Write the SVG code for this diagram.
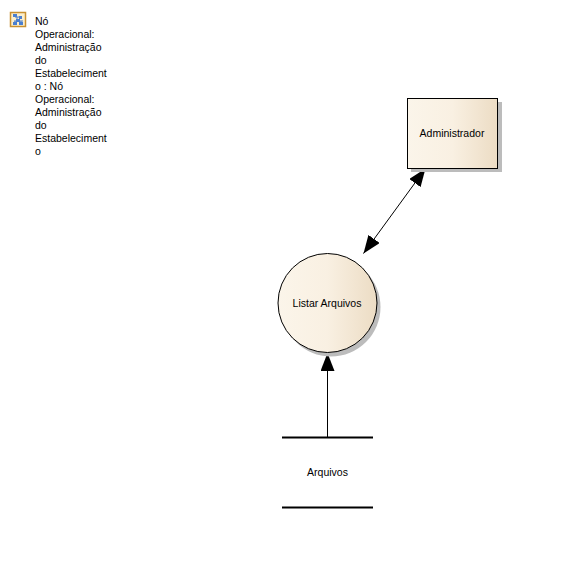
<svg xmlns="http://www.w3.org/2000/svg" width="585" height="572" viewBox="0 0 585 572">
<style>
text{font-family:"Liberation Sans",Arial,sans-serif;font-size:10.500px;fill:#000}
.c{text-anchor:middle}
.conn{stroke:#000;stroke-width:1;fill:none}
.bar{stroke:#000;stroke-width:2;fill:none}
.shape{stroke:#000;stroke-width:1;fill:url(#g)}
.shadow{fill:#bcbcbc}
.ico{fill:#4a7fd0;stroke:none}
</style>
<defs>
<linearGradient id="g" x1="0" y1="0" x2="1" y2="0">
<stop offset="0" stop-color="#fbf5ea"/><stop offset=".5" stop-color="#f9f0e2"/><stop offset="1" stop-color="#ecdcc4"/>
</linearGradient>
<marker id="ah" markerUnits="userSpaceOnUse" viewBox="0 0 18 14" refX="18" refY="7" markerWidth="18" markerHeight="14" orient="auto-start-reverse">
<path d="M0 0L18 7L0 14Z" fill="#000"/>
</marker>
</defs>
<g id="legend">
<rect x="10.500" y="12.500" width="15" height="14" fill="#fbeecb" stroke="#c89030" stroke-width="1.500"/>
<path d="M15 17h5M17 17v4M14 21h9M15 21v2M21 21v2" stroke="#4a7fd0" stroke-width="1" fill="none"/>
<rect class="ico" x="13" y="14" width="4" height="3"/>
<rect class="ico" x="19" y="16" width="3" height="3"/>
<rect class="ico" x="16" y="19" width="4" height="3"/>
<rect class="ico" x="13" y="22" width="4" height="3"/>
<rect class="ico" x="19" y="22" width="4" height="3"/>
<text x="35" y="25">Nó</text>
<text x="35" y="38">Operacional:</text>
<text x="35" y="51">Administração</text>
<text x="35" y="64">do</text>
<text x="35" y="77">Estabeleciment</text>
<text x="35" y="90">o : Nó</text>
<text x="35" y="103">Operacional:</text>
<text x="35" y="116">Administração</text>
<text x="35" y="129">do</text>
<text x="35" y="142">Estabeleciment</text>
<text x="35" y="155">o</text>
</g>
<g id="connectors">
<path class="conn" d="M425.500 168.500L363.500 253.500" marker-start="url(#ah)" marker-end="url(#ah)"/>
<path class="conn" d="M327.500 437L327.500 353" marker-end="url(#ah)"/>
</g>
<g id="administrador">
<rect class="shadow" x="411" y="102" width="91" height="70"/>
<rect class="shape" x="407.500" y="98.500" width="90" height="70"/>
<text class="c" x="452" y="137">Administrador</text>
</g>
<g id="listar-arquivos">
<circle class="shadow" cx="331" cy="307" r="49.500"/>
<circle class="shape" cx="327.500" cy="303" r="49.500"/>
<text class="c" x="327" y="307">Listar Arquivos</text>
</g>
<g id="arquivos">
<path class="bar" d="M282 437.500H373M282 507.500H373"/>
<text class="c" x="327.500" y="476">Arquivos</text>
</g>
</svg>
